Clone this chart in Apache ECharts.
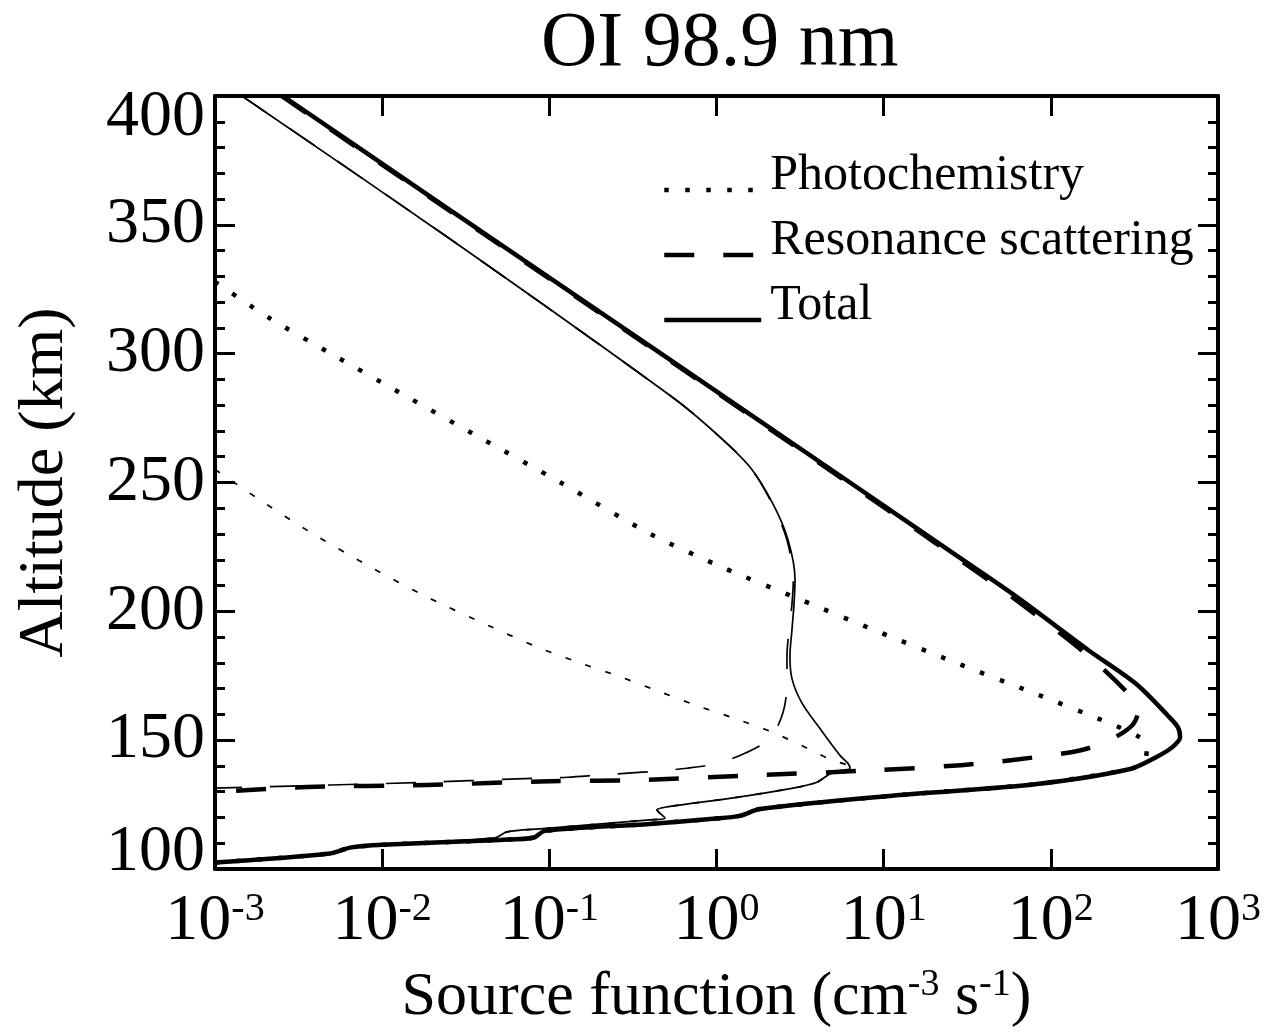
<!DOCTYPE html>
<html>
<head>
<meta charset="utf-8">
<script src="https://cdn.jsdelivr.net/npm/echarts@6/dist/echarts.min.js"></script>
<style>
html,body{margin:0;padding:0;background:#fff;}
#chart{width:1277px;height:1035px;}
</style>
</head>
<body>
<div id="chart"></div>
<script>
// Altitude (km) and source function (cm^-3 s^-1)
const thickPhotoAlt = [327.9, 313.7, 300.2, 284.8, 267.4, 250.1, 230.1, 217, 204.6, 192.3, 180.3, 168.4, 156.5, 151.1, 147.2, 141.4, 138.7, 132.9, 128.7, 123.3, 120.6, 119.5, 117.5, 114.8, 112.1, 111.3, 109.4, 108.3, 106, 102.5];
const thickPhotoVal = [0.001, 0.00213, 0.00488, 0.0128, 0.0385, 0.116, 0.400, 1.09, 3.16, 9.12, 26.4, 78.2, 226, 341, 376, 361, 294, 80.4, 12.5, 1.82, 1.38, 0.953, 0.40, 0.0942, 0.0798, 0.0507, 0.0101, 0.00643, 0.00488, 0.001];

const thickResAlt = [400, 360, 300, 250, 221.2, 205.8, 183.8, 166.9, 161.1, 155.7, 149.9, 146, 142.6, 140.3, 138.3, 136.4, 134.5, 134.1, 132.6, 131.8, 129.9];
const thickResVal = [0.0025, 0.0200, 0.457, 6.1, 26.8, 58, 160, 302, 332, 306, 223, 149, 64.5, 29.0, 8.63, 1.75, 0.334, 0.101, 0.0185, 0.00355, 0.001];

const thickTotalAlt = [400, 360, 300, 250, 221.2, 205.8, 185, 171.9, 159.5, 154.9, 151.1, 147.2, 143.4, 138.7, 132.9, 128.7, 123.3, 120.6, 119.5, 117.5, 114.8, 112.1, 111.3, 109.4, 108.3, 106, 102.5];
const thickTotalVal = [0.00255, 0.0204, 0.466, 6.29, 27.9, 61.9, 167, 323, 502, 577, 593, 531, 426, 294, 80.4, 12.5, 1.82, 1.38, 0.953, 0.40, 0.0942, 0.0798, 0.0507, 0.0101, 0.00643, 0.00488, 0.001];

const thinPhotoAlt = [255.1, 243.2, 230.8, 217.3, 205.0, 194.2, 185.7, 180.0, 174.9, 169.2, 163.4, 158.4, 153.0, 146.0, 142.2, 140.3, 139.1, 137.6, 133.7, 131.4, 127.6, 124.1, 122.9, 119.8, 119.1, 115.6, 114.4, 112.1, 109.4, 108.3, 106, 102.5];
const thinPhotoVal = [0.001, 0.00186, 0.0037, 0.00845, 0.0193, 0.0442, 0.0879, 0.152, 0.258, 0.441, 0.764, 1.29, 2.18, 3.72, 4.91, 6.12, 6.29, 4.98, 3.99, 2.87, 1.26, 0.506, 0.441, 0.492, 0.400, 0.0879, 0.0558, 0.0473, 0.0101, 0.00643, 0.00488, 0.001];

const thinResAlt = [400, 344.5, 282.9, 268.6, 255.9, 241.6, 227.7, 212.3, 203.1, 193.1, 182.7, 172.3, 160.7, 150.7, 144.9, 141.0, 139.1, 138.0, 137.2, 136.4, 135.6, 135.3, 134.9, 133.7, 132.6, 131.4];
const thinResVal = [0.00145, 0.0255, 0.550, 1.01, 1.59, 2.16, 2.64, 2.88, 2.83, 2.72, 2.64, 2.64, 2.50, 2.09, 1.48, 1.01, 0.667, 0.441, 0.296, 0.195, 0.129, 0.0879, 0.0582, 0.0193, 0.00488, 0.001];

const thinTotalAlt = [400, 344.5, 282.9, 268.6, 255.9, 241.6, 227.7, 212.3, 203.1, 193.1, 182.7, 173.8, 164.5, 154.5, 144.1, 141.0, 139.1, 137.6, 133.7, 131.4, 127.6, 124.1, 122.9, 119.8, 119.1, 115.6, 114.4, 112.1, 109.4, 108.3, 106, 102.5];
const thinTotalVal = [0.00145, 0.0255, 0.550, 1.01, 1.59, 2.18, 2.68, 2.95, 2.91, 2.83, 2.75, 2.83, 3.24, 4.16, 5.48, 6.12, 6.29, 4.98, 3.99, 2.87, 1.26, 0.506, 0.441, 0.492, 0.400, 0.0879, 0.0558, 0.0473, 0.0101, 0.00643, 0.00488, 0.001];

const altTicks = [100, 150, 200, 250, 300, 350, 400];
const legendNames = ['Photochemistry', 'Resonance scattering', 'Total'];

const FONT = 'Liberation Serif';
const zip = (alt, val) => alt.map((h, i) => [val[i], h]);

function mk(name, alt, val, width, dash, smooth) {
  return {
    name: name, type: 'line', data: zip(alt, val), symbol: 'none', smooth: smooth,
    lineStyle: {color: '#000', width: width, type: dash, cap: 'butt', join: 'round'},
    itemStyle: {color: '#000'},
    animation: false, z: width > 3 ? 3 : 2
  };
}

const chart = echarts.init(document.getElementById('chart'), null, {renderer: 'canvas'});

const axisLineStyle = {color: '#000', width: 4};
const tickStyle = {color: '#000', width: 3};

const option = {
  backgroundColor: '#fff',
  animation: false,
  title: {
    text: 'OI 98.9 nm', left: 541, top: 6, padding: 0,
    textStyle: {fontFamily: FONT, fontSize: 78, fontWeight: 'normal', color: '#000'}
  },
  legend: {
    data: legendNames, orient: 'vertical', left: 657, top: 146,
    itemWidth: 97, itemHeight: 14, itemGap: -13, selectedMode: false,
    itemStyle: {opacity: 0},
    lineStyle: {width: 4.5},
    formatter: function (name) { return '{t|' + name + '}'; },
    textStyle: {
      fontFamily: FONT, fontSize: 50, color: '#000',
      rich: {t: {fontFamily: FONT, fontSize: 50, color: '#000', lineHeight: 36, padding: [0, 0, 28, 4]}}
    }
  },
  grid: {left: 215, right: 59, top: 96, bottom: 162, containLabel: false},
  xAxis: [
    {
      type: 'log', logBase: 10, min: 0.001, max: 1000, position: 'bottom',
      name: 'Source function (cm{sup|-3} s{sup|-1})', nameLocation: 'middle', nameGap: 97,
      nameTextStyle: {fontFamily: FONT, fontSize: 62, color: '#000', lineHeight: 64,
        rich: {sup: {fontFamily: FONT, fontSize: 38, color: '#000', verticalAlign: 'top', lineHeight: 38}}},
      axisLine: {show: true, lineStyle: axisLineStyle},
      axisTick: {show: true, inside: true, length: 20, lineStyle: tickStyle},
      minorTick: {show: false},
      splitLine: {show: false},
      axisLabel: {
        margin: 20, color: '#000',
        formatter: function (v) { const e = Math.round(Math.log10(v)); return '{b|10}{s|' + e + '}'; },
        rich: {
          b: {fontFamily: FONT, fontSize: 66, color: '#000', lineHeight: 66},
          s: {fontFamily: FONT, fontSize: 40, color: '#000', verticalAlign: 'top', lineHeight: 40}
        }
      }
    },
    {
      type: 'log', logBase: 10, min: 0.001, max: 1000, position: 'top',
      axisLine: {show: true, lineStyle: axisLineStyle},
      axisTick: {show: true, inside: true, length: 20, lineStyle: tickStyle},
      axisLabel: {show: false}, splitLine: {show: false}
    }
  ],
  yAxis: [
    {
      type: 'value', min: 100, max: 400, interval: 50, position: 'left',
      name: 'Altitude (km)', nameLocation: 'middle', nameGap: 138, nameRotate: 90,
      nameTextStyle: {fontFamily: FONT, fontSize: 64, color: '#000'},
      axisLine: {show: true, lineStyle: axisLineStyle},
      axisTick: {show: true, inside: true, length: 20, lineStyle: tickStyle},
      minorTick: {show: true, splitNumber: 5, length: 10, lineStyle: tickStyle},
      splitLine: {show: false},
      axisLabel: {
        margin: 10, color: '#000',
        formatter: function (v) {
          if (v === altTicks[0]) return '{lo|' + v + '}';
          if (v === altTicks[altTicks.length - 1]) return '{hi|' + v + '}';
          return '{n|' + v + '}';
        },
        rich: {
          n: {fontFamily: FONT, fontSize: 66, color: '#000'},
          lo: {fontFamily: FONT, fontSize: 66, color: '#000', padding: [0, 0, 32, 0]},
          hi: {fontFamily: FONT, fontSize: 66, color: '#000', padding: [44, 0, 0, 0]}
        }
      }
    },
    {
      type: 'value', min: 100, max: 400, interval: 50, position: 'right',
      axisLine: {show: true, lineStyle: axisLineStyle},
      axisTick: {show: true, inside: true, length: 20, lineStyle: tickStyle},
      minorTick: {show: true, splitNumber: 5, length: 10, lineStyle: tickStyle},
      axisLabel: {show: false}, splitLine: {show: false}
    }
  ],
  series: [
    mk('Photochemistry', thickPhotoAlt, thickPhotoVal, 4.5, [4.5, 16.5], 0.25),
    mk('Resonance scattering', thickResAlt, thickResVal, 4.5, [30, 29], 0.3),
    mk('Total', thickTotalAlt, thickTotalVal, 4.5, 'solid', 0.3),
    mk('Photochemistry (thin)', thinPhotoAlt, thinPhotoVal, 1.7, [6, 15], 0.25),
    mk('Resonance scattering (thin)', thinResAlt, thinResVal, 1.7, [30, 28], 0.3),
    mk('Total (thin)', thinTotalAlt, thinTotalVal, 1.7, 'solid', 0.3)
  ]
};
chart.setOption(option);
</script>
</body>
</html>
